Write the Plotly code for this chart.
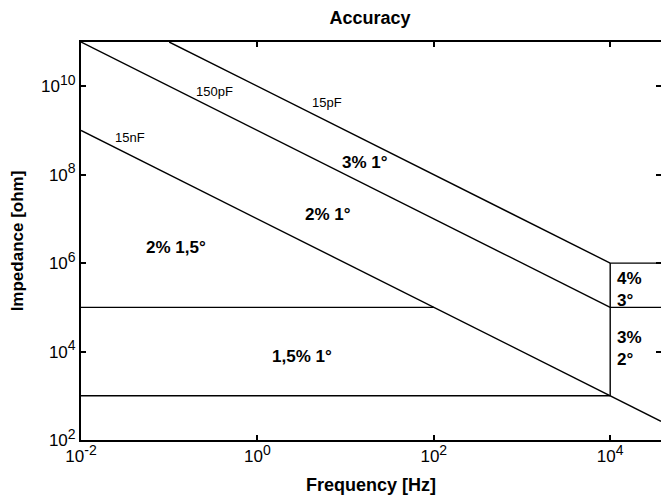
import plotly.graph_objects as go

# --- data ---
f_15pF = [1e-1, 1e4]
z_15pF = [1e11, 1e6]
f_150pF = [1e-2, 1e4]
z_150pF = [1e11, 1e5]
f_15nF = [1e-2, 1e2, 1e4, 3.77e4]
z_15nF = [1e9, 1e5, 1e3, 2.65e2]

# region borders
f_border_hi_left = [1e-2, 1e2]
z_border_hi_left = [1e5, 1e5]
f_border_lo = [1e-2, 1e4]
z_border_lo = [1e3, 1e3]
f_border_vert = [1e4, 1e4]
z_border_vert = [1e3, 1e6]
f_border_right = [1e4, 3.77e4]
z_border_right_hi = [1e6, 1e6]
z_border_right_lo = [1e5, 1e5]

cap_labels = ["150pF", "15pF", "15nF"]
region_labels = ["3% 1°", "2% 1°", "2% 1,5°", "1,5% 1°", "4%<br>3°", "3%<br>2°"]

x_tickvals = [1e-2, 1e0, 1e2, 1e4]
x_exponents = ["-2", "0", "2", "4"]
y_tickvals = [1e2, 1e4, 1e6, 1e8, 1e10]
y_exponents = ["2", "4", "6", "8", "10"]

FONT = "Liberation Sans, Arial, Helvetica, sans-serif"
line_style = dict(color="black", width=1.4)


def pow_label(e):
    return "10<sup><span style='font-size:14px'>" + e + "</span></sup>"


fig = go.Figure()
segments = [
    (f_15pF, z_15pF), (f_150pF, z_150pF), (f_15nF, z_15nF),
    (f_border_hi_left, z_border_hi_left), (f_border_lo, z_border_lo),
    (f_border_vert, z_border_vert), (f_border_right, z_border_right_hi),
    (f_border_right, z_border_right_lo),
]
for fx, zy in segments:
    fig.add_trace(go.Scatter(x=fx, y=zy, mode="lines", line=line_style,
                             showlegend=False, hoverinfo="skip"))

# capacitor labels (normal weight); positions in log10 axis units
cap_pos = [(-0.486, 9.89), (0.79, 9.64), (-1.446, 8.85)]
for txt, (px, py) in zip(cap_labels, cap_pos):
    fig.add_annotation(x=px, y=py, text=txt, showarrow=False,
                       font=dict(family=FONT, size=13, color="black"))

# region labels (bold)
reg_pos = [(1.22, 8.28, "center"), (0.80, 7.11, "center"),
           (-0.927, 6.36, "center"), (0.503, 3.88, "center"),
           (4.05, 5.40, "left"), (4.05, 4.07, "left")]
for txt, (px, py, al) in zip(region_labels, reg_pos):
    fig.add_annotation(x=px, y=py, text="<b>" + txt + "</b>", showarrow=False,
                       xanchor=al, align="left",
                       font=dict(family=FONT, size=17, color="black"))

axis_common = dict(
    type="log", showgrid=False, zeroline=False, showline=True, linecolor="black",
    linewidth=2, mirror="ticks", ticks="inside", ticklen=5, tickwidth=1.5,
    tickcolor="black", tickfont=dict(family=FONT, size=17, color="black"),
)

W, H = 663, 498
fig.update_layout(
    width=W, height=H,
    margin=dict(l=81, r=0, t=42, b=H - 440),
    paper_bgcolor="white", plot_bgcolor="white",
    title=dict(text="<b>Accuracy</b>", x=290 / 582, xref="paper", xanchor="center",
               y=1 - 18 / H, yref="container", yanchor="middle",
               font=dict(family=FONT, size=18, color="black")),
    xaxis=dict(axis_common, range=[-2, 4.576], tickvals=x_tickvals,
               ticktext=[pow_label(e) for e in x_exponents],
               title=dict(text="<b>Frequency [Hz]</b>", standoff=13,
                          font=dict(family=FONT, size=18, color="black"))),
    yaxis=dict(axis_common, range=[2, 11], tickvals=y_tickvals,
               ticktext=[pow_label(e) for e in y_exponents],
               title=dict(text="<b>Impedance [ohm]</b>", standoff=13,
                          font=dict(family=FONT, size=17, color="black"))),
)

fig.write_html(
    "out.html",
    config={"displayModeBar": False},
    post_script="document.body.style.margin='0';document.body.style.overflow='hidden';",
)
